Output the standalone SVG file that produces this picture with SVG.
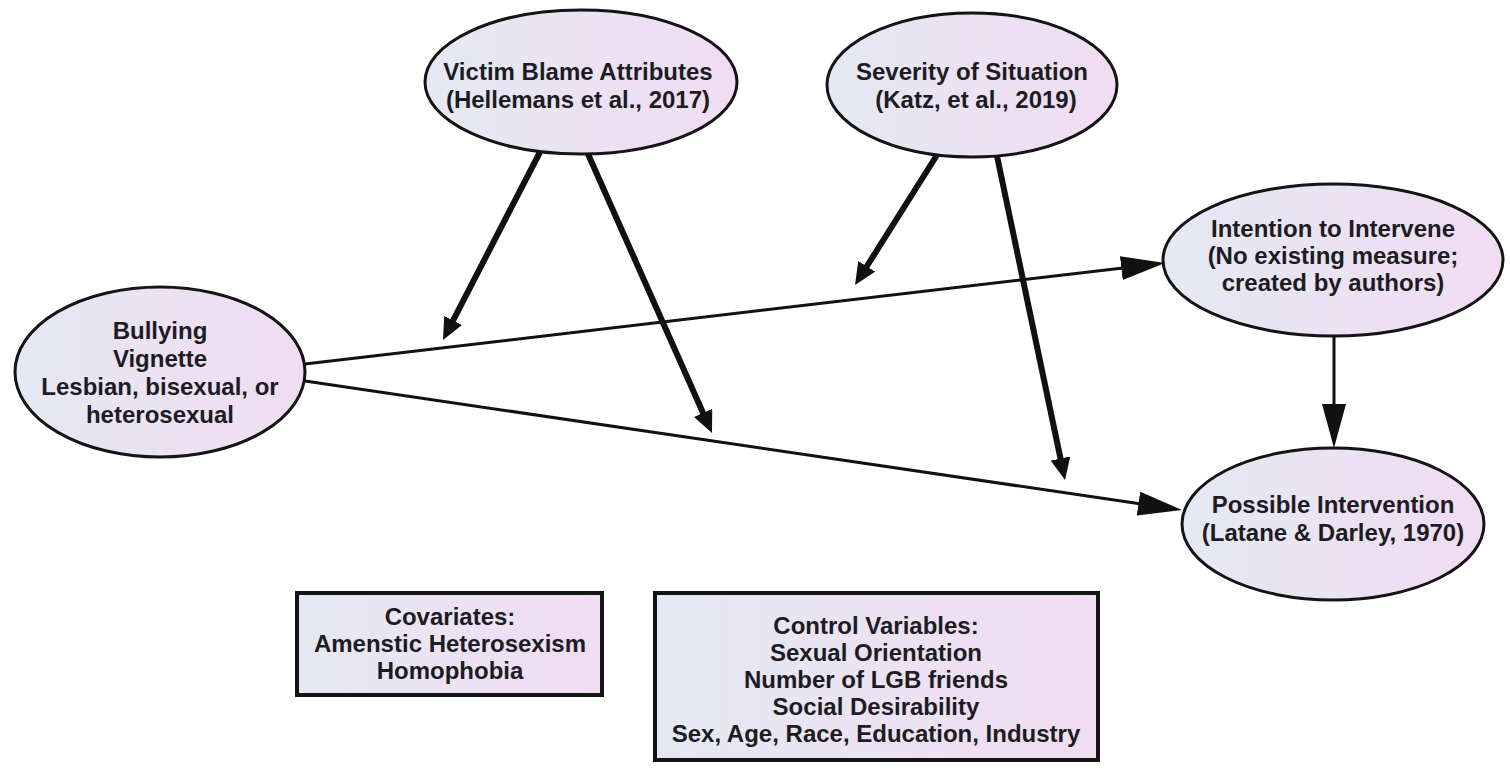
<svg xmlns="http://www.w3.org/2000/svg" width="1510" height="769" viewBox="0 0 1510 769">
<style>
  .node { stroke: #141414; stroke-width: 3; fill: url(#fillGrad); }
  .box { stroke: #141414; stroke-width: 4; fill: url(#fillGrad); }
  .lbl { font-family: "Liberation Sans", Arial, sans-serif; font-weight: bold; font-size: 24px; fill: #1c1c22; text-anchor: middle; }
  .main { stroke: #111; stroke-width: 3; fill: none; }
  .mod { stroke: #111; stroke-width: 6; fill: none; }
</style>
<defs>
  <linearGradient id="fillGrad" x1="0" y1="0" x2="1" y2="0">
    <stop offset="0" stop-color="#e5e9f3"/>
    <stop offset="1" stop-color="#f1dcf2"/>
  </linearGradient>
  <marker id="bigHead" markerUnits="userSpaceOnUse" markerWidth="44" markerHeight="24" refX="34" refY="12" orient="auto">
    <path d="M0,0 L44,12 L0,24 z" fill="#111"/>
  </marker>
  <marker id="smallHead" markerUnits="userSpaceOnUse" markerWidth="22" markerHeight="20" refX="14" refY="10" orient="auto">
    <path d="M0,0 L22,10 L0,20 z" fill="#111"/>
  </marker>
</defs>
<rect x="0" y="0" width="1510" height="769" fill="#ffffff"/>

<g id="node-bullying">
  <ellipse class="node" cx="160" cy="372" rx="145" ry="85"/>
  <text class="lbl" x="160" y="339">Bullying</text>
  <text class="lbl" x="160" y="367">Vignette</text>
  <text class="lbl" x="160" y="395">Lesbian, bisexual, or</text>
  <text class="lbl" x="160" y="423">heterosexual</text>
</g>
<g id="node-victim">
  <ellipse class="node" cx="581" cy="82" rx="156" ry="72"/>
  <text class="lbl" x="578" y="80">Victim Blame Attributes</text>
  <text class="lbl" x="578" y="108">(Hellemans et al., 2017)</text>
</g>
<g id="node-severity">
  <ellipse class="node" cx="972" cy="85" rx="145" ry="72"/>
  <text class="lbl" x="972" y="80">Severity of Situation</text>
  <text class="lbl" x="976" y="108">(Katz, et al., 2019)</text>
</g>
<g id="node-intention">
  <ellipse class="node" cx="1333" cy="260" rx="170" ry="76"/>
  <text class="lbl" x="1333" y="237">Intention to Intervene</text>
  <text class="lbl" x="1333" y="264">(No existing measure;</text>
  <text class="lbl" x="1333" y="291">created by authors)</text>
</g>
<g id="node-possible">
  <ellipse class="node" cx="1333" cy="524" rx="151" ry="76"/>
  <text class="lbl" x="1333" y="513">Possible Intervention</text>
  <text class="lbl" x="1333" y="541">(Latane &amp; Darley, 1970)</text>
</g>
<g id="node-covariates">
  <rect class="box" x="297" y="593" width="305" height="102"/>
  <text class="lbl" x="450" y="625">Covariates:</text>
  <text class="lbl" x="450" y="652">Amenstic Heterosexism</text>
  <text class="lbl" x="450" y="679">Homophobia</text>
</g>
<g id="node-controls">
  <rect class="box" x="655" y="593" width="443" height="167"/>
  <text class="lbl" x="876" y="634">Control Variables:</text>
  <text class="lbl" x="876" y="661">Sexual Orientation</text>
  <text class="lbl" x="876" y="688">Number of LGB friends</text>
  <text class="lbl" x="876" y="715">Social Desirability</text>
  <text class="lbl" x="876" y="742">Sex, Age, Race, Education, Industry</text>
</g>

<g id="connectors">
  <line class="main" x1="305" y1="364" x2="1155.07" y2="264.17" marker-end="url(#bigHead)"/>
  <line class="main" x1="305" y1="381" x2="1172.11" y2="508.55" marker-end="url(#bigHead)"/>
  <line class="main" x1="1334" y1="336" x2="1334" y2="438" marker-end="url(#bigHead)"/>
  <line class="mod" x1="540" y1="152" x2="446.67" y2="332.89" marker-end="url(#smallHead)"/>
  <line class="mod" x1="588" y1="154" x2="708.75" y2="425.69" marker-end="url(#smallHead)"/>
  <line class="mod" x1="937" y1="155" x2="859.27" y2="278.23" marker-end="url(#smallHead)"/>
  <line class="mod" x1="997" y1="156" x2="1063.36" y2="472.17" marker-end="url(#smallHead)"/>
</g>
</svg>
